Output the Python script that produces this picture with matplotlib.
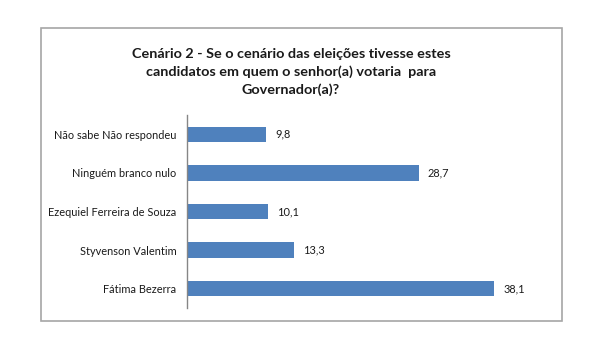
import matplotlib
matplotlib.use("Agg")
import matplotlib.pyplot as plt
from matplotlib.patches import Rectangle

categories = ["Não sabe Não respondeu", "Ninguém branco nulo", "Ezequiel Ferreira de Souza",
              "Styvenson Valentim", "Fátima Bezerra"]
values = [9.8, 28.7, 10.1, 13.3, 38.1]
value_labels = ["9,8", "28,7", "10,1", "13,3", "38,1"]
title = ("Cenário 2 - Se o cenário das eleições tivesse estes\n"
         "candidatos em quem o senhor(a) votaria  para\n"
         "Governador(a)?")

plt.rcParams['font.family'] = ['Lato', 'DejaVu Sans']

W, H = 604, 358
fig = plt.figure(figsize=(W/100, H/100), dpi=100)

# outer border
fig.patches.append(Rectangle((41/W, 1-321/H), (562-41)/W, (321-28)/H,
                             transform=fig.transFigure, fill=False,
                             edgecolor='#a6a6a6', linewidth=1.2))

ax = fig.add_axes([187/W, 1-308/H, 363/W, 193/H])
y = list(range(len(categories)))
ax.barh(y, values, height=0.4, color='#4f81bd')
ax.set_ylim(len(categories)-0.5, -0.5)
ax.set_xlim(0, 45)
ax.set_yticks(y)
ax.set_yticklabels(categories, fontsize=7.9, color='#1a1a1a')
ax.tick_params(axis='y', length=0, pad=7.5)
ax.set_xticks([])
for s in ['top', 'right', 'bottom']:
    ax.spines[s].set_visible(False)
ax.spines['left'].set_color('#868686')
ax.spines['left'].set_linewidth(1)
for yi, v, lab in zip(y, values, value_labels):
    ax.annotate(lab, (v, yi), xytext=(6.5, 0), textcoords='offset points',
                va='center', ha='left', fontsize=7.9, color='#1a1a1a')

fig.text(291/W, 1-72/H, title, ha='center', va='center', fontsize=10.4,
         fontweight='bold', linespacing=1.5, color='#1a1a1a')

fig.savefig("out.png", dpi=100, facecolor='white')
